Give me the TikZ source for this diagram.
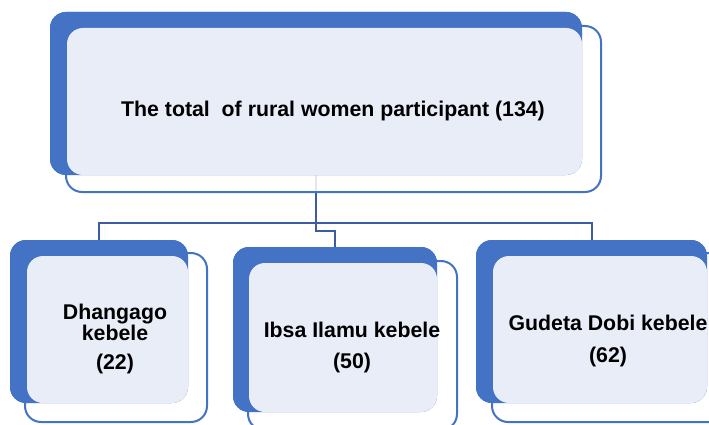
\documentclass[tikz,border=0pt]{standalone}
\usepackage{fontspec}
\setmainfont{Liberation Sans}
\definecolor{boxblue}{RGB}{68,114,196}
\definecolor{boxfill}{RGB}{233,237,247}
\definecolor{linkblue}{RGB}{60,93,165}
\tikzset{
  boxback/.style={fill=boxblue,rounded corners=16pt,inner sep=0pt},
  boxfront/.style={fill=boxfill,rounded corners=16pt,inner sep=0pt},
  boxframe/.style={draw=boxblue,line width=2pt,fill=white,fill opacity=0.85,rounded corners=16pt,inner sep=0pt},
  boxtext/.style={font=\bfseries\fontsize{21.3}{21}\selectfont,align=center,inner sep=0pt},
  linkline/.style={draw=linkblue,line width=2pt}
}
\begin{document}
\begin{tikzpicture}[x=1pt,y=-1pt]
        \useasboundingbox (0,0) rectangle (709,425);

        \node[boxback,minimum width=532pt,minimum height=163pt] (topback) at (316,93.5) {};
        \node[boxback,minimum width=178pt,minimum height=163pt] (dhaback) at (99,321.5) {};
        \node[boxback,minimum width=204pt,minimum height=165pt] (ibsback) at (335,329.5) {};
        \node[boxback,minimum width=231pt,minimum height=163pt] (gudback) at (591.5,321.5) {};

        \path[linkline] (topback.south) -- ++(0,56) -| (ibsback.north);
        \path[linkline] (dhaback.north) -- ++(0,-17) -| (gudback.north);

        \node[boxframe,minimum width=535pt,minimum height=166pt] (topframe) at (333.5,109) {};
        \node[boxframe,minimum width=182pt,minimum height=169pt] (dhaframe) at (116,337.5) {};
        \node[boxframe,minimum width=209pt,minimum height=169pt] (ibsframe) at (352.5,345.5) {};
        \node[boxframe,minimum width=234pt,minimum height=169pt] (gudframe) at (609,337.5) {};

        \node[boxback,minimum width=532pt,minimum height=163pt] at (topback) {};
        \node[boxback,minimum width=178pt,minimum height=163pt] at (dhaback) {};
        \node[boxback,minimum width=204pt,minimum height=165pt] at (ibsback) {};
        \node[boxback,minimum width=231pt,minimum height=163pt] at (gudback) {};

        \node[boxfront,minimum width=515pt,minimum height=147pt] (topfront) at (324.5,101.5) {};
        \node[boxfront,minimum width=161pt,minimum height=147pt] (dhafront) at (107.5,329.5) {};
        \node[boxfront,minimum width=188pt,minimum height=149pt] (ibsfront) at (343,337.5) {};
        \node[boxfront,minimum width=214pt,minimum height=147pt] (gudfront) at (600,329.5) {};

        \node[boxtext] (toptext) at (333,111) {The total~ of rural women participant (134)};
        \node[boxtext] (dhatext) at (115,339) {Dhangago\\kebele\\[8pt](22)};
        \node[boxtext] (ibstext) at (352,347) {Ibsa Ilamu kebele\\[10pt](50)};
        \node[boxtext] (gudtext) at (608,340.5) {Gudeta Dobi kebele\\[11pt](62)};
    \end{tikzpicture}
\end{document}
